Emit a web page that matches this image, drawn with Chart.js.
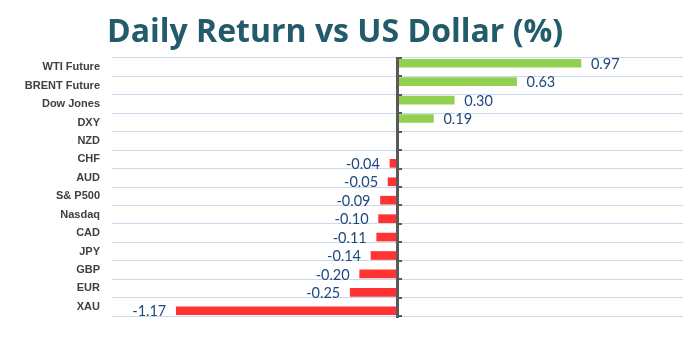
<!DOCTYPE html>
<html><head><meta charset="utf-8">
<script src="https://cdn.jsdelivr.net/npm/chart.js@4.4.0/dist/chart.umd.min.js"></script>
<style>html,body{margin:0;padding:0;background:#fff}#wrap{width:696px;height:356px;position:relative}</style>
</head><body><div id="wrap"><canvas id="c" width="696" height="356"></canvas></div>
<script>
const chartTitle = 'Daily Return vs US Dollar (%)';
const categories = ['WTI Future','BRENT Future','Dow Jones','DXY','NZD','CHF','AUD','S& P500','Nasdaq','CAD','JPY','GBP','EUR','XAU'];
const returns = [0.97, 0.63, 0.30, 0.19, -0.005, -0.04, -0.05, -0.09, -0.10, -0.11, -0.14, -0.20, -0.25, -1.17];
const valueLabels = ['0.97','0.63','0.30','0.19','','-0.04','-0.05','-0.09','-0.10','-0.11','-0.14','-0.20','-0.25','-1.17'];
const xMin = -1.51, xMax = 1.51;

const positiveSeries = returns.map(v => v > 0 ? v : null);
const negativeSeries = returns.map(v => v < 0 ? v : null);

const decor = {
  id: 'decor',
  beforeDraw(chart) {
    const ctx = chart.ctx;
    ctx.save();
    ctx.fillStyle = '#fff';
    ctx.fillRect(0, 0, chart.width, chart.height);
    ctx.font = 'bold 32px "Open Sans"';
    ctx.fillStyle = '#235B6A';
    ctx.textAlign = 'left';
    ctx.textBaseline = 'alphabetic';
    ctx.fillText(chartTitle, 107, 42);
    ctx.restore();
  },
  afterDatasetsDraw(chart) {
    const {ctx, chartArea, scales: {x}} = chart;
    const x0 = x.getPixelForValue(0);
    ctx.save();
    ctx.fillStyle = '#595959';
    ctx.fillRect(Math.round(x0) - 2, chartArea.top - 1, 3, chartArea.bottom - chartArea.top + 3);
    const n = categories.length;
    const step = (chartArea.bottom - chartArea.top) / n;
    for (let i = 0; i <= n; i++) {
      const yy = Math.round(chartArea.top + i * step);
      ctx.fillRect(Math.round(x0) + 1, yy - 1, 3, 2);
    }
    ctx.font = '14.5px Lato';
    ctx.fillStyle = '#1F497D';
    ctx.textBaseline = 'middle';
    chart.data.datasets.forEach((ds, di) => {
      const meta = chart.getDatasetMeta(di);
      meta.data.forEach((bar, i) => {
        const v = ds.data[i];
        if (v == null || !valueLabels[i]) return;
        if (v >= 0) { ctx.textAlign = 'left'; ctx.fillText(valueLabels[i], bar.x + 10, bar.y + 1); }
        else { ctx.textAlign = 'right'; ctx.fillText(valueLabels[i], bar.x - 10, bar.y + 1); }
      });
    });
    ctx.restore();
  }
};

new Chart(document.getElementById('c'), {
  type: 'bar',
  data: {
    labels: categories,
    datasets: [
      {label: 'Positive', data: positiveSeries, backgroundColor: '#92D050', barThickness: 8},
      {label: 'Negative', data: negativeSeries, backgroundColor: '#FF3333', barThickness: 8}
    ]
  },
  options: {
    indexAxis: 'y',
    responsive: false,
    animation: false,
    layout: {padding: {top: 58, bottom: 40, right: 13, left: 0}},
    plugins: {legend: {display: false}, tooltip: {enabled: false}, title: {display: false}},
    scales: {
      x: {min: xMin, max: xMax, display: false},
      y: {
        grid: {offset: true, color: '#C9DAEE', lineWidth: 1, drawTicks: false},
        border: {display: false},
        ticks: {color: '#404040', font: {family: 'Liberation Sans', size: 11, weight: 'bold'}, padding: 12, autoSkip: false},
        afterFit(scale) { scale.width = 112; }
      }
    }
  },
  plugins: [decor]
});
</script></body></html>
